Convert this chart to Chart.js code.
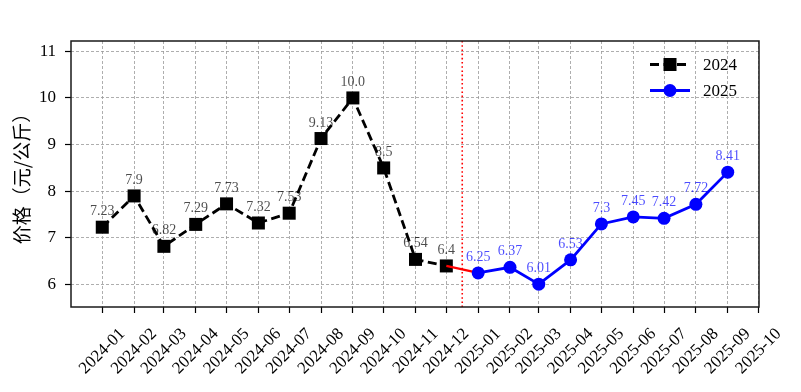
<!DOCTYPE html>
<html>
<head>
<meta charset="utf-8">
<script src="https://cdn.jsdelivr.net/npm/chart.js@4.4.1/dist/chart.umd.min.js"></script>
<style>
  html, body { margin: 0; padding: 0; background: #fff; }
</style>
</head>
<body>
<canvas id="price-chart" width="801" height="392"></canvas>
<script>
// Data
const tickLabels = [
  "2024-01", "2024-02", "2024-03", "2024-04", "2024-05", "2024-06",
  "2024-07", "2024-08", "2024-09", "2024-10", "2024-11", "2024-12",
  "2025-01", "2025-02", "2025-03", "2025-04", "2025-05", "2025-06",
  "2025-07", "2025-08", "2025-09", "2025-10",
];
const dates2024 = [
  "2024-01-01", "2024-02-01", "2024-03-01", "2024-04-01", "2024-05-01", "2024-06-01",
  "2024-07-01", "2024-08-01", "2024-09-01", "2024-10-01", "2024-11-01", "2024-12-01",
];
const prices2024 = [7.23, 7.9, 6.82, 7.29, 7.73, 7.32, 7.53, 9.13, 10.0, 8.5, 6.54, 6.4];
const dates2025 = [
  "2025-01-01", "2025-02-01", "2025-03-01", "2025-04-01", "2025-05-01",
  "2025-06-01", "2025-07-01", "2025-08-01", "2025-09-01",
];
const prices2025 = [6.25, 6.37, 6.01, 6.53, 7.3, 7.45, 7.42, 7.72, 8.41];
const yTicks = [6, 7, 8, 9, 10, 11];

const SERIF = "'Liberation Serif', 'DejaVu Serif', serif";
const CJK = "'Noto Sans CJK SC', sans-serif";

// days since 2024-01-01 (linear x axis stands in for a time axis)
const base = Date.parse("2024-01-01");
const day = (s) => (Date.parse(s) - base) / 86400000;
const fmt = (v) => (Number.isInteger(v) ? v.toFixed(1) : String(v));

const points2024 = dates2024.map((d, i) => ({ x: day(d), y: prices2024[i] }));
const points2025 = dates2025.map((d, i) => ({ x: day(d), y: prices2025[i] }));
const linkPoints = [points2024[points2024.length - 1], points2025[0]];
const splitX = (linkPoints[0].x + linkPoints[1].x) / 2;
const tickValues = tickLabels.map((m) => day(m + "-01"));

const span = points2025[points2025.length - 1].x - points2024[0].x;
const xMin = points2024[0].x - span * 0.05;
const xMax = points2025[points2025.length - 1].x + span * 0.05;

// =========================================================
// plugins: frame, split line, value labels, legend
// =========================================================
const extrasPlugin = {
  id: "extras",
  beforeDatasetsDraw(chart) {
    const { ctx, chartArea } = chart;
    const px = chart.scales.x.getPixelForValue(splitX);
    ctx.save();
    ctx.strokeStyle = "#ff0000";
    ctx.lineWidth = 1.6;
    ctx.setLineDash([1.6, 2.6]);
    ctx.beginPath();
    ctx.moveTo(px, chartArea.top);
    ctx.lineTo(px, chartArea.bottom);
    ctx.stroke();
    ctx.restore();
  },
  afterDatasetsDraw(chart) {
    const { ctx, chartArea } = chart;
    ctx.save();
    ctx.font = "14px " + SERIF;
    ctx.textAlign = "center";
    ctx.textBaseline = "alphabetic";

    const m24 = chart.getDatasetMeta(2);
    ctx.fillStyle = "rgba(0,0,0,0.7)";
    m24.data.forEach((p, i) => ctx.fillText(fmt(prices2024[i]), p.x, p.y - 12));

    const m25 = chart.getDatasetMeta(0);
    ctx.fillStyle = "rgba(0,0,255,0.7)";
    m25.data.forEach((p, i) => ctx.fillText(fmt(prices2025[i]), p.x, p.y - 12));

    // frame
    ctx.strokeStyle = "#1a1a1a";
    ctx.lineWidth = 1.5;
    ctx.strokeRect(chartArea.left, chartArea.top, chartArea.right - chartArea.left, chartArea.bottom - chartArea.top);

    // legend
    const lx0 = chartArea.right - 109;
    const lx1 = chartArea.right - 69;
    const lxm = (lx0 + lx1) / 2;
    const rows = [chartArea.top + 23.5, chartArea.top + 49.5];

    ctx.strokeStyle = "#000";
    ctx.lineWidth = 2.8;
    ctx.setLineDash([9, 4.5]);
    ctx.beginPath();
    ctx.moveTo(lx0, rows[0]);
    ctx.lineTo(lx1, rows[0]);
    ctx.stroke();
    ctx.setLineDash([]);
    ctx.fillStyle = "#000";
    ctx.fillRect(lxm - 6.5, rows[0] - 6.5, 13, 13);

    ctx.strokeStyle = "#0000ff";
    ctx.beginPath();
    ctx.moveTo(lx0, rows[1]);
    ctx.lineTo(lx1, rows[1]);
    ctx.stroke();
    ctx.fillStyle = "#0000ff";
    ctx.beginPath();
    ctx.arc(lxm, rows[1], 6.5, 0, Math.PI * 2);
    ctx.fill();

    ctx.fillStyle = "#000";
    ctx.font = "17px " + SERIF;
    ctx.textAlign = "left";
    ctx.textBaseline = "middle";
    ctx.fillText("2024", chartArea.right - 56, rows[0] + 1);
    ctx.fillText("2025", chartArea.right - 56, rows[1] + 1);
    ctx.restore();
  },
};

// =========================================================
// line chart
// =========================================================
const ctx = document.getElementById("price-chart");

new Chart(ctx, {
  type: "line",
  plugins: [extrasPlugin],
  data: {
    datasets: [
      {
        label: "2025",
        data: points2025,
        borderColor: "#0000ff",
        backgroundColor: "#0000ff",
        borderWidth: 2.8,
        pointStyle: "circle",
        pointRadius: 6.5,
        pointBorderWidth: 0,
        order: 0,
      },
      {
        label: "link",
        data: linkPoints,
        borderColor: "#ff0000",
        borderWidth: 2.2,
        pointRadius: 0,
        order: 1,
      },
      {
        label: "2024",
        data: points2024,
        borderColor: "#000000",
        backgroundColor: "#000000",
        borderWidth: 2.8,
        borderDash: [9, 4.5],
        pointStyle: "rect",
        pointRadius: 9.2,
        pointBorderWidth: 0,
        order: 2,
      },
    ],
  },
  options: {
    responsive: false,
    animation: false,
    devicePixelRatio: 1,
    layout: { padding: { left: 0, top: 41, right: 42, bottom: 0 } },
    plugins: { legend: { display: false }, tooltip: { enabled: false } },
    scales: {
      x: {
        type: "linear",
        min: xMin,
        max: xMax,
        afterBuildTicks: (scale) => {
          scale.ticks = tickValues.map((v) => ({ value: v }));
        },
        afterFit: (scale) => {
          scale.height = 85;
          scale.paddingLeft = 0;
          scale.paddingRight = 0;
        },
        ticks: {
          autoSkip: false,
          minRotation: 45,
          maxRotation: 45,
          labelOffset: 20,
          padding: 11,
          color: "#000",
          font: { family: SERIF, size: 17 },
          callback: (value, index) => tickLabels[index],
        },
        grid: {
          color: "#999999",
          lineWidth: 0.8,
          tickColor: "#000",
          tickLength: 6,
          tickWidth: 1.2,
        },
        border: { display: false, dash: [3, 2] },
      },
      y: {
        min: 5.52,
        max: 11.22,
        afterBuildTicks: (scale) => {
          scale.ticks = yTicks.map((v) => ({ value: v }));
        },
        afterFit: (scale) => {
          scale.width = 71;
          scale.paddingTop = 0;
          scale.paddingBottom = 0;
        },
        ticks: {
          padding: 9,
          color: "#000",
          font: { family: SERIF, size: 17 },
        },
        grid: {
          color: "#999999",
          lineWidth: 0.8,
          tickColor: "#000",
          tickLength: 6,
          tickWidth: 1.2,
        },
        border: { display: false, dash: [3, 2] },
        title: {
          display: true,
          text: "价格（元/公斤）",
          color: "#000",
          font: { family: CJK, size: 19 },
          padding: { top: 10, bottom: 0 },
        },
      },
    },
  },
});
</script>
</body>
</html>
